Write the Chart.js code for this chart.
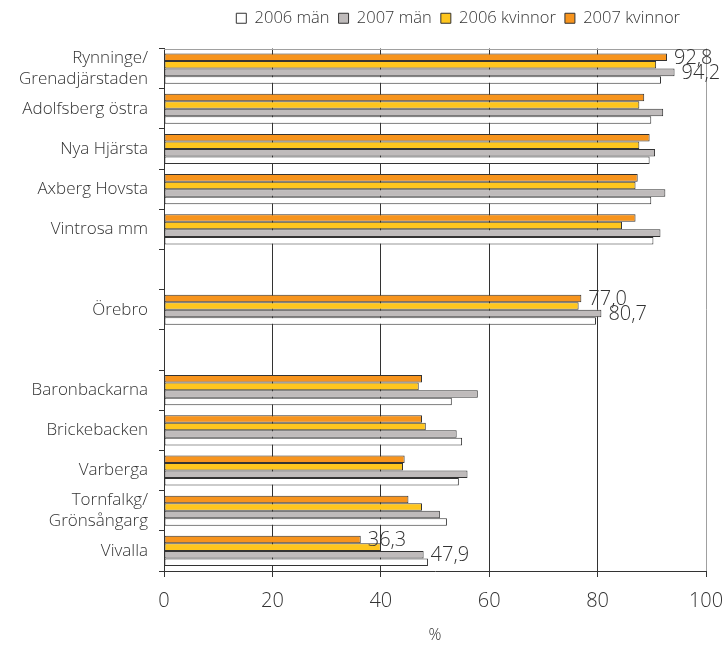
<!DOCTYPE html>
<html><head><meta charset="utf-8">
<script src="https://cdn.jsdelivr.net/npm/chart.js@4/dist/chart.umd.min.js"></script>
<style>html,body{margin:0;padding:0;background:#fff}#wrap{width:726px;height:645px;position:relative}</style>
</head><body><div id="wrap"><canvas id="c" width="726" height="645"></canvas></div>
<script>
const categories = [["Rynninge/","Grenadjärstaden"],"Adolfsberg östra","Nya Hjärsta","Axberg Hovsta","Vintrosa mm","","Örebro","",
  "Baronbackarna","Brickebacken","Varberga",["Tornfalkg/","Grönsångarg"],"Vivalla"];
const men2006   = [91.7, 89.9, 89.6, 89.9, 90.3, null, 79.7, null, 53.1, 55.0, 54.4, 52.2, 48.7];
const men2007   = [94.2, 92.1, 90.6, 92.5, 91.6, null, 80.7, null, 57.9, 54.0, 56.0, 50.9, 47.9];
const women2006 = [90.8, 87.7, 87.7, 87.0, 84.5, null, 76.5, null, 47.0, 48.3, 44.1, 47.6, 40.0];
const women2007 = [92.8, 88.6, 89.6, 87.4, 87.0, null, 77.0, null, 47.6, 47.6, 44.4, 45.1, 36.3];
const seriesNames = ["2006 män","2007 män","2006 kvinnor","2007 kvinnor"];
const xTicks = [0, 20, 40, 60, 80, 100];
const labelledSeries = ["2007 kvinnor","2007 män"];
const labelledCategories = [0, 6, 12];

const FONT = "'Open Sans', Lato, sans-serif";
const TXT = '#333333';

const topBorder = {
  id: 'topBorder',
  beforeDatasetsDraw(chart) {
    const {ctx, chartArea: a} = chart;
    ctx.save();
    ctx.strokeStyle = '#a0a0a0'; ctx.lineWidth = 1;
    ctx.beginPath(); ctx.moveTo(a.left, Math.round(a.top) + 0.5); ctx.lineTo(a.right, Math.round(a.top) + 0.5); ctx.stroke();
    ctx.restore();
  }
};
const valueLabels = {
  id: 'valueLabels',
  afterDatasetsDraw(chart) {
    const ctx = chart.ctx;
    ctx.save();
    ctx.font = "300 20px " + FONT;
    ctx.fillStyle = TXT; ctx.textBaseline = 'middle'; ctx.textAlign = 'left';
    chart.data.datasets.forEach((ds, di) => {
      if (!labelledSeries.includes(ds.label)) return;
      const meta = chart.getDatasetMeta(di);
      labelledCategories.forEach(i => {
        const el = meta.data[i]; const v = ds.data[i];
        if (!el || v == null) return;
        ctx.fillText(v.toFixed(1).replace('.', ','), el.x + 7, el.y + 1);
      });
    });
    ctx.restore();
  }
};
const legendTweak = {
  id: 'legendTweak',
  beforeLayout(chart) {
    const lg = chart.legend;
    if (lg && !lg._tweaked) {
      lg._tweaked = true;
      const fit = lg.fit;
      lg.fit = function() { fit.call(this); this.height += 13; };
    }
  },
  afterLayout(chart) {
    if (chart.legend) { chart.legend.left -= 17; chart.legend.right -= 17; chart.legend.top += 1; }
  }
};

new Chart(document.getElementById('c'), {
  type: 'bar',
  data: {
    labels: categories,
    datasets: [
      {label: seriesNames[3], data: women2007, backgroundColor: '#F7941D'},
      {label: seriesNames[2], data: women2006, backgroundColor: '#FFC61E'},
      {label: seriesNames[1], data: men2007, backgroundColor: '#BFBBBB'},
      {label: seriesNames[0], data: men2006, backgroundColor: '#FFFFFF'}
    ].map(d => Object.assign(d, {borderColor: '#333333', borderWidth: 1, borderSkipped: false,
      categoryPercentage: 0.75, barPercentage: 1}))
  },
  options: {
    indexAxis: 'y',
    responsive: false,
    animation: false,
    layout: {padding: {left: 6, right: 20, top: 0, bottom: 0}},
    plugins: {
      tooltip: {enabled: false},
      legend: {
        position: 'top', align: 'end', reverse: true,
        labels: {boxWidth: 10, boxHeight: 10, padding: 9, color: TXT, font: {family: FONT, size: 16.5, weight: '300'}}
      }
    },
    scales: {
      x: {
        min: 0, max: 100,
        afterBuildTicks(s) { s.ticks = xTicks.map(v => ({value: v})); },
        afterFit(s) { s.height = 74; s.paddingLeft = 0; s.paddingRight = 0; },
        ticks: {color: TXT, padding: 12, font: {family: FONT, size: 20, weight: '300'}},
        grid: {color: c => (c.tick && c.tick.value === 100) ? '#a0a0a0' : '#333333', tickColor: '#333333', tickLength: 6, lineWidth: 1},
        border: {color: '#333333'},
        title: {display: true, text: '%', color: TXT, font: {family: FONT, size: 16, weight: '300'}, padding: {top: 0, bottom: 0}}
      },
      y: {
        afterFit(s) { s.width = 158; s.paddingTop = 0; s.paddingBottom = 0; },
        ticks: {color: TXT, padding: 11, font: {family: FONT, size: 17, weight: '300'}, autoSkip: false},
        grid: {drawOnChartArea: false, offset: true, tickLength: 5, color: '#333333'},
        border: {color: '#333333'}
      }
    }
  },
  plugins: [topBorder, valueLabels, legendTweak]
});
</script></body></html>
